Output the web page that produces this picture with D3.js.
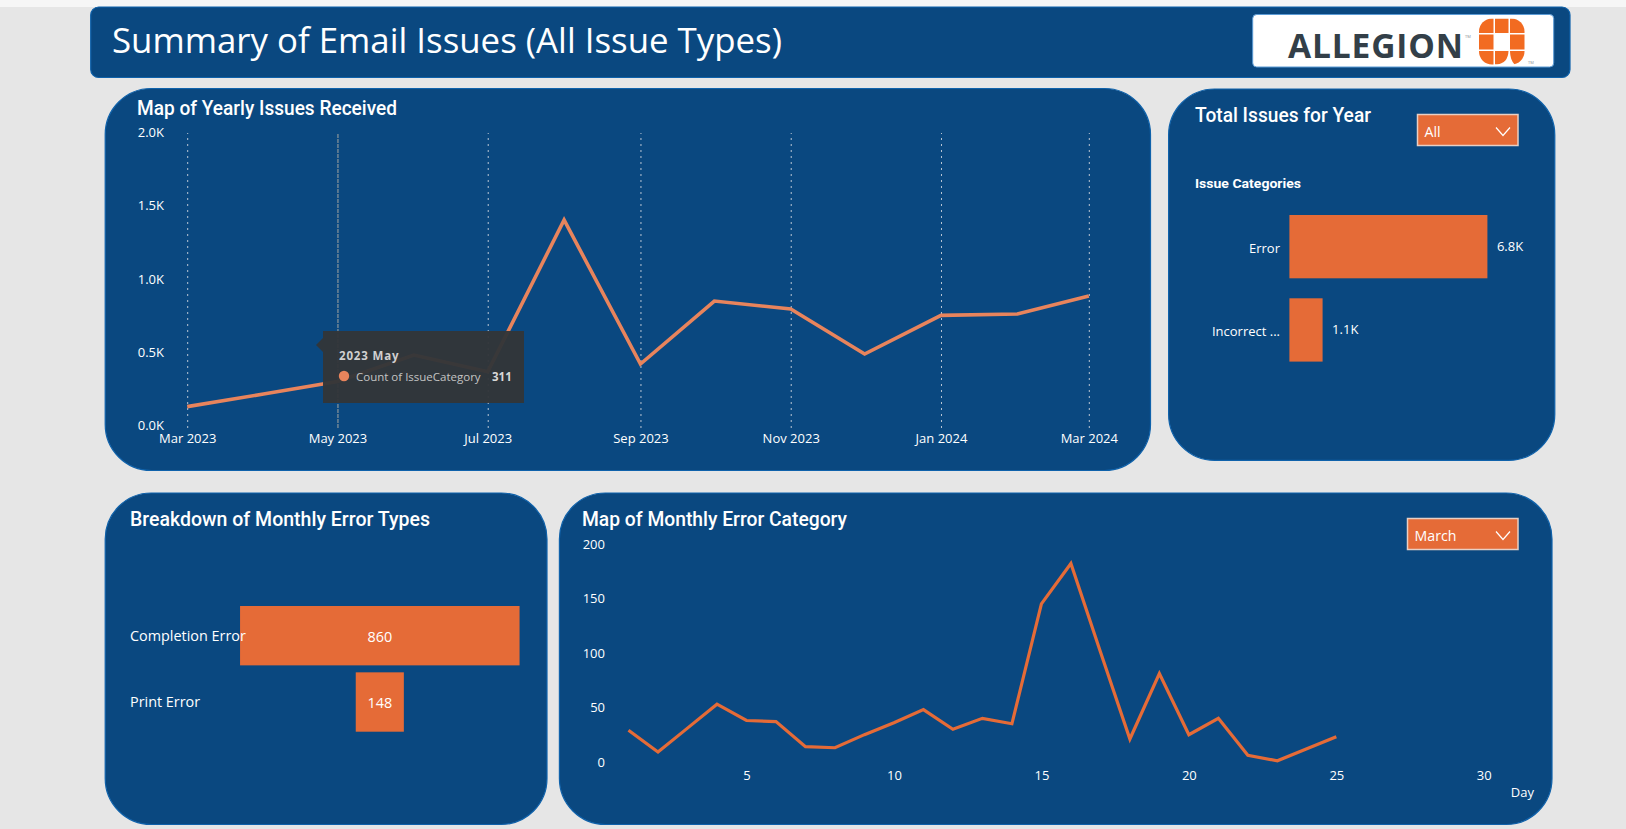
<!DOCTYPE html>
<html>
<head>
<meta charset="utf-8">
<script src="https://cdnjs.cloudflare.com/ajax/libs/d3/7.8.5/d3.min.js"></script>
<style>
  html, body { margin: 0; padding: 0; background: #e6e6e6; }
  svg { display: block; }
  text { fill: #fff; }
  .din { font-family: Roboto, sans-serif; font-weight: 500; }
  .seg { font-family: "Open Sans", sans-serif; }
  .axis .domain { display: none; }
  .axis text { fill: #fff; font-family: "Open Sans", sans-serif; font-size: 13px; }
</style>
</head>
<body>
<svg id="dash" width="1626" height="829"></svg>
<script>
// yearly issues
const months = ["2023-03-01","2023-04-01","2023-05-01","2023-06-01","2023-07-01","2023-08-01","2023-09-01",
                "2023-10-01","2023-11-01","2023-12-01","2024-01-01","2024-02-01","2024-03-01"]
const monthCounts = [139, 225, 311, 491, 377, 1413, 430, 860, 805, 498, 762, 771, 894]
const yearTicks = [0, 500, 1000, 1500, 2000]
const monthTicks = ["2023-03-01","2023-05-01","2023-07-01","2023-09-01","2023-11-01","2024-01-01","2024-03-01"]

// issue categories
const categories = ["Error", "Incorrect ..."]
const categoryCounts = [6800, 1140]
const categoryLabels = ["6.8K", "1.1K"]

// monthly error types
const errorTypes = ["Completion Error", "Print Error"]
const errorCounts = [860, 148]

// daily errors for March
const days = [1,2,3,4,5,6,7,8,9,10,11,12,13,14,15,16,17,18,19,20,21,22,23,24,25]
const dayCounts = [30,10,32,54,39,38,15,14,26,37,49,31,41,36,146,183,102,22,82,26,41,7,2,13,24]
const dayTicks = [5,10,15,20,25,30]
const dayCountTicks = [0,50,100,150,200]

const navy = "#0a4880", edge = "#0f62ab", orange = "#e56b37", lineOrange = "#e8845c"
const parse = d3.timeParse("%Y-%m-%d")

const svg = d3.select("#dash")

svg.append("rect").attr("width", 1626).attr("height", 7).attr("fill", "#f6f6f6")

function panel(x0, y0, x1, y1, r) {
  svg.append("rect")
     .attr("x", x0).attr("y", y0)
     .attr("width", x1 - x0).attr("height", y1 - y0)
     .attr("rx", r).attr("ry", r)
     .attr("fill", navy)
     .attr("stroke", edge).attr("stroke-width", 1.2)
}

// the original titles are a narrow DIN, so squeeze Roboto to the same width
function title(txt, x, y, size, width) {
  svg.append("text").attr("class", "din")
     .attr("x", x).attr("y", y)
     .attr("textLength", width)
     .attr("lengthAdjust", "spacingAndGlyphs")
     .style("font-size", size + "px")
     .text(txt)
}

function slicer(x0, y0, x1, y1, label) {
  svg.append("rect")
     .attr("x", x0).attr("y", y0)
     .attr("width", x1 - x0).attr("height", y1 - y0)
     .attr("fill", orange)
     .attr("stroke", "#e8cfc4").attr("stroke-width", 1.5)
  svg.append("text").attr("class", "seg")
     .attr("x", x0 + 7).attr("y", y1 - 8.5)
     .style("font-size", "14.2px")
     .text(label)
  svg.append("path")
     .attr("d", `M${x1-22},${y0+13} L${x1-15},${y0+21} L${x1-8},${y0+13}`)
     .attr("fill", "none")
     .attr("stroke", "#fff").attr("stroke-width", 1.2)
}

panel(90.7, 7, 1570, 77.5, 8)
panel(105.2, 88.5, 1150.5, 470.5, 46)
panel(1168.6, 89, 1554.8, 460.3, 46)
panel(105.2, 493, 547, 824.5, 46)
panel(559.4, 493, 1552, 824.5, 46)

// header
svg.append("text").attr("class", "seg")
   .attr("x", 112).attr("y", 53)
   .style("font-size", "34.85px")
   .text("Summary of Email Issues (All Issue Types)")

// logo
svg.append("rect")
   .attr("x", 1252.7).attr("y", 14.5).attr("width", 301).attr("height", 52.5)
   .attr("rx", 4).attr("fill", "#fff")
   .attr("stroke", "#5b9bd5").attr("stroke-width", 1)
svg.append("text")
   .attr("x", 1288).attr("y", 58)
   .attr("textLength", 175)
   .attr("lengthAdjust", "spacing")
   .style("font-family", "'Open Sans', sans-serif").style("font-weight", 700)
   .style("font-size", "33.5px").style("fill", "#333f48")
   .text("ALLEGION")
svg.append("text")
   .attr("x", 1465).attr("y", 38)
   .style("font-family", "'Open Sans', sans-serif")
   .style("font-size", "4px").style("fill", "#8a9096")
   .text("TM")
svg.append("text")
   .attr("x", 1528).attr("y", 64)
   .style("font-family", "'Open Sans', sans-serif")
   .style("font-size", "4px").style("fill", "#8a9096")
   .text("TM")
const clip = svg.append("clipPath").attr("id", "markClip")
clip.append("rect").attr("x", 1479).attr("y", 18.5).attr("width", 45.5).attr("height", 46).attr("rx", 13)
const mark = svg.append("g").attr("clip-path", "url(#markClip)").attr("fill", "#f26b21")
mark.append("rect").attr("x", 1479).attr("y", 18.5).attr("width", 14.5).attr("height", 14.5)
mark.append("rect").attr("x", 1495).attr("y", 18.5).attr("width", 13.5).attr("height", 14.5)
mark.append("rect").attr("x", 1510).attr("y", 18.5).attr("width", 15).attr("height", 14.5)
mark.append("rect").attr("x", 1479).attr("y", 34.5).attr("width", 14.5).attr("height", 15)
mark.append("rect").attr("x", 1510).attr("y", 34.5).attr("width", 15).attr("height", 15)
mark.append("rect").attr("x", 1479).attr("y", 51).attr("width", 14.5).attr("height", 14)
mark.append("path").attr("d", "M1495,51 H1508.5 Q1508,63 1497,64.5 H1495 Z")
mark.append("path").attr("d", "M1510,51 H1525 V65 H1515 Q1510,60 1510,51 Z")

// yearly line
title("Map of Yearly Issues Received", 137, 115, 20, 260)

const x1 = d3.scaleTime().domain([parse(months[0]), parse(months[months.length - 1])]).range([187.2, 1088.8])
const y1 = d3.scaleLinear().domain([0, 2000]).range([427, 134])

const xAxis1 = svg.append("g").attr("class", "axis")
    .attr("transform", "translate(0,428)")
    .call(d3.axisBottom(x1)
            .tickValues(monthTicks.map(parse))
            .tickFormat(d3.timeFormat("%b %Y"))
            .tickSize(-295).tickPadding(6))
xAxis1.selectAll("line")
      .attr("stroke", "#b9c5d3").attr("stroke-width", 1)
      .attr("stroke-dasharray", "2 4")
// hover crosshair on May
xAxis1.selectAll("line").filter(d => +d === +parse("2023-05-01"))
      .attr("stroke", "#a5a59e").attr("stroke-dasharray", "4 1")

svg.append("g").attr("class", "axis")
   .attr("transform", "translate(164,-1.5)")
   .call(d3.axisLeft(y1)
           .tickValues(yearTicks)
           .tickFormat(d => (d / 1000).toFixed(1) + "K")
           .tickSize(0).tickPadding(0))

const line1 = d3.line().x((d, i) => x1(parse(months[i]))).y(d => y1(d))
svg.append("path")
   .datum(monthCounts)
   .attr("d", line1)
   .attr("fill", "none")
   .attr("stroke", lineOrange).attr("stroke-width", 3.6)

// tooltip
const tip = svg.append("g")
tip.append("path")
   .attr("d", "M323,338 L316,345 L323,352 Z")
   .attr("fill", "#323538").attr("opacity", .96)
tip.append("rect")
   .attr("x", 323).attr("y", 331).attr("width", 201).attr("height", 72)
   .attr("fill", "#323538").attr("opacity", .96)
tip.append("text").attr("class", "seg")
   .attr("x", 339).attr("y", 360)
   .style("font-size", "11.5px").style("font-weight", 700).style("letter-spacing", ".85px").style("fill", "#d0d0d0")
   .text("2023 May")
tip.append("circle")
   .attr("cx", 344).attr("cy", 376).attr("r", 5.2).attr("fill", lineOrange)
tip.append("text").attr("class", "seg")
   .attr("x", 356).attr("y", 381)
   .style("font-size", "11.5px").style("fill", "#c4c4c4")
   .text("Count of IssueCategory")
tip.append("text").attr("class", "seg")
   .attr("x", 492).attr("y", 381)
   .style("font-size", "11.5px").style("font-weight", 700).style("fill", "#d8d8d8")
   .text(monthCounts[2])

// total issues
title("Total Issues for Year", 1195, 122, 20, 176)
slicer(1417.5, 114.5, 1518, 145.5, "All")
svg.append("text").attr("class", "din")
   .attr("x", 1195).attr("y", 188)
   .attr("textLength", 106)
   .attr("lengthAdjust", "spacingAndGlyphs")
   .style("font-size", "13.5px").style("font-weight", 700)
   .text("Issue Categories")

const x2 = d3.scaleLinear().domain([0, 6800]).range([1289.4, 1487.4])
const y2 = d3.scaleBand().domain(categories).range([215, 361.6]).paddingInner(.24).paddingOuter(0)

svg.selectAll(".catbar").data(categories).join("rect")
   .attr("class", "catbar")
   .attr("x", x2(0))
   .attr("y", d => y2(d))
   .attr("width", (d, i) => x2(categoryCounts[i]) - x2(0))
   .attr("height", y2.bandwidth())
   .attr("fill", orange)
svg.selectAll(".catname").data(categories).join("text")
   .attr("class", "catname seg")
   .attr("x", 1280)
   .attr("y", d => y2(d) + y2.bandwidth() / 2 + 1.5)
   .attr("dy", ".35em")
   .attr("text-anchor", "end")
   .style("font-size", "13px")
   .text(d => d)
svg.selectAll(".catval").data(categories).join("text")
   .attr("class", "catval seg")
   .attr("x", (d, i) => x2(categoryCounts[i]) + 9.5)
   .attr("y", d => y2(d) + y2.bandwidth() / 2)
   .attr("dy", ".35em")
   .style("font-size", "13px")
   .text((d, i) => categoryLabels[i])

// funnel of error types
title("Breakdown of Monthly Error Types", 130, 526, 20, 300)

const funnelWidth = d3.scaleLinear().domain([0, 860]).range([0, 279.5])
const y3 = d3.scaleBand().domain(errorTypes).range([606, 731.7]).paddingInner(.105).paddingOuter(0)
const funnelMid = 379.8

svg.selectAll(".funbar").data(errorTypes).join("rect")
   .attr("class", "funbar")
   .attr("x", (d, i) => funnelMid - funnelWidth(errorCounts[i]) / 2)
   .attr("y", d => y3(d))
   .attr("width", (d, i) => funnelWidth(errorCounts[i]))
   .attr("height", y3.bandwidth())
   .attr("fill", orange)
svg.selectAll(".funname").data(errorTypes).join("text")
   .attr("class", "funname seg")
   .attr("x", 130)
   .attr("y", d => y3(d) + y3.bandwidth() / 2)
   .attr("dy", ".35em")
   .style("font-size", "14.4px")
   .text(d => d)
svg.selectAll(".funval").data(errorTypes).join("text")
   .attr("class", "funval seg")
   .attr("x", funnelMid)
   .attr("y", d => y3(d) + y3.bandwidth() / 2 + 1)
   .attr("dy", ".35em")
   .attr("text-anchor", "middle")
   .style("font-size", "14.4px")
   .text((d, i) => errorCounts[i])

// daily line
title("Map of Monthly Error Category", 582, 526, 20, 265)
slicer(1407.5, 518.5, 1518, 549.5, "March")

const x4 = d3.scaleLinear().domain([1, 30]).range([628.5, 1483.8])
const y4 = d3.scaleLinear().domain([0, 200]).range([763, 545])

svg.append("g").attr("class", "axis")
   .attr("transform", "translate(0,771)")
   .call(d3.axisBottom(x4).tickValues(dayTicks).tickSize(0).tickPadding(0))
svg.append("g").attr("class", "axis")
   .attr("transform", "translate(605,-1)")
   .call(d3.axisLeft(y4).tickValues(dayCountTicks).tickSize(0).tickPadding(0))
svg.append("text").attr("class", "seg")
   .attr("x", 1534).attr("y", 797)
   .attr("text-anchor", "end")
   .style("font-size", "13px")
   .text("Day")

svg.append("path")
   .datum(dayCounts)
   .attr("d", d3.line().x((d, i) => x4(days[i])).y(d => y4(d)))
   .attr("fill", "none")
   .attr("stroke", orange).attr("stroke-width", 3.2)
</script>
</body>
</html>
